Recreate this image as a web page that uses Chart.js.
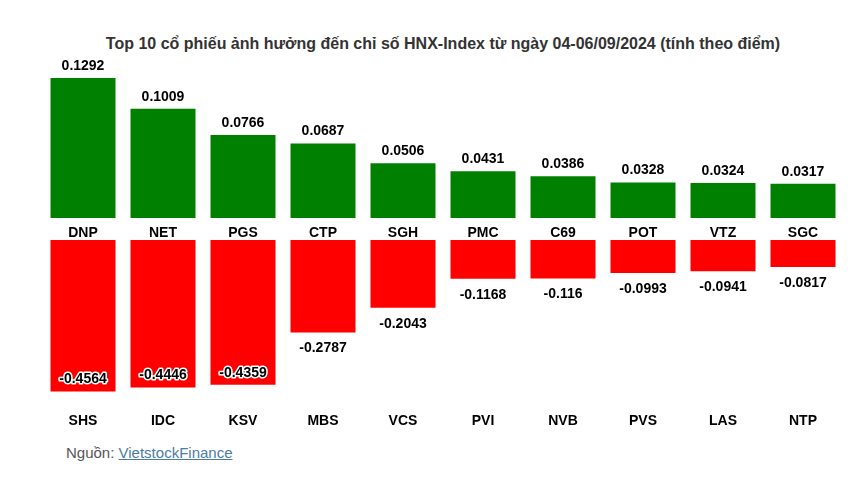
<!DOCTYPE html>
<html lang="vi">
<head>
<meta charset="utf-8">
<title>Top 10 cổ phiếu ảnh hưởng đến chỉ số HNX-Index</title>
<script src="https://cdn.jsdelivr.net/npm/chart.js@4.4.1/dist/chart.umd.min.js"></script>
<style>
  body { margin: 0; background: #fff; font-family: "Liberation Sans", Arial, sans-serif; }
  #khung { position: relative; width: 866px; height: 492px; overflow: hidden; }
  #tieu-de { position: absolute; top: 35px; left: 10px; width: 866px; text-align: center;
             font-weight: bold; font-size: 16px; color: #333; }
  #bd-tang { position: absolute; left: 43px; top: 50px; }
  #bd-giam { position: absolute; left: 43px; top: 235px; }
  #nguon { position: absolute; left: 66px; top: 444px; font-size: 15px; color: #555; }
  #nguon a { color: #4b7ca6; text-decoration: underline; }
</style>
</head>
<body>
<div id="khung">
  <div id="tieu-de">Top 10 cổ phiếu ảnh hưởng đến chỉ số HNX-Index từ ngày 04-06/09/2024 (tính theo điểm)</div>
  <canvas id="bd-tang" width="800" height="200"></canvas>
  <canvas id="bd-giam" width="800" height="206"></canvas>
  <div id="nguon">Nguồn: <a href="#">VietstockFinance</a></div>
</div>
<script>
// Cổ phiếu kéo chỉ số tăng (điểm)
const maTang = ['DNP', 'NET', 'PGS', 'CTP', 'SGH', 'PMC', 'C69', 'POT', 'VTZ', 'SGC'];
const diemTang = [0.1292, 0.1009, 0.0766, 0.0687, 0.0506, 0.0431, 0.0386, 0.0328, 0.0324, 0.0317];

// Cổ phiếu kéo chỉ số giảm (điểm)
const maGiam = ['SHS', 'IDC', 'KSV', 'MBS', 'VCS', 'PVI', 'NVB', 'PVS', 'LAS', 'NTP'];
const diemGiam = [-0.4564, -0.4446, -0.4359, -0.2787, -0.2043, -0.1168, -0.116, -0.0993, -0.0941, -0.0817];

const FONT = '"Liberation Sans", Arial, sans-serif';

/**
 * Plugin vẽ nhãn giá trị trên/dưới mỗi cột.
 * Cột âm quá dài thì nhãn nằm trong cột, có viền trắng.
 */
const nhanGiaTri = {
  id: 'nhanGiaTri',
  afterDatasetsDraw(chart) {
    const ctx = chart.ctx;
    const meta = chart.getDatasetMeta(0);
    const values = chart.data.datasets[0].data;
    ctx.save();
    ctx.font = 'bold 14px ' + FONT;
    ctx.textAlign = 'center';
    ctx.textBaseline = 'middle';
    ctx.lineJoin = 'round';
    meta.data.forEach((bar, i) => {
      const v = values[i];
      let y, vien = false;
      if (v >= 0) {
        y = bar.y - 12;
      } else {
        y = bar.y + 16;
        if (y + 8 > chart.chartArea.bottom) { y = bar.y - 12; vien = true; }
      }
      if (vien) {
        ctx.lineWidth = 3;
        ctx.strokeStyle = '#fff';
        ctx.strokeText(String(v), bar.x, y);
      }
      ctx.fillStyle = '#000';
      ctx.fillText(String(v), bar.x, y);
    });
    ctx.restore();
  }
};

/**
 * Tạo một biểu đồ cột.
 * @param {string} id - id của canvas
 * @param {Array<string>} nhan - mã cổ phiếu
 * @param {Array<number>} duLieu - giá trị
 * @param {string} mau - màu cột
 * @param {number} min, max - khoảng trục y
 * @param {number} padTop, cao - khoảng đệm trên, chiều cao trục x
 */
function veBieuDo(id, nhan, duLieu, mau, min, max, padTop, cao) {
  return new Chart(document.getElementById(id), {
    type: 'bar',
    data: {
      labels: nhan,
      datasets: [{ data: duLieu, backgroundColor: mau, barPercentage: 0.8125, categoryPercentage: 1 }]
    },
    options: {
      responsive: false,
      animation: false,
      layout: { padding: { top: padTop, left: 0, right: 0, bottom: 0 } },
      plugins: { legend: { display: false }, tooltip: { enabled: false } },
      scales: {
        x: {
          grid: { display: false, drawTicks: false },
          border: { display: false },
          ticks: { color: '#000', padding: 7, font: { family: FONT, size: 14, weight: 'bold' } },
          afterFit(scale) { scale.height = cao; }
        },
        y: { display: false, min: min, max: max }
      }
    },
    plugins: [nhanGiaTri]
  });
}

veBieuDo('bd-tang', maTang, diemTang, '#008000', 0, 0.1459, 10, 32);
veBieuDo('bd-giam', maGiam, diemGiam, '#ff0000', -0.5, 0, 5, 35);
</script>
</body>
</html>
